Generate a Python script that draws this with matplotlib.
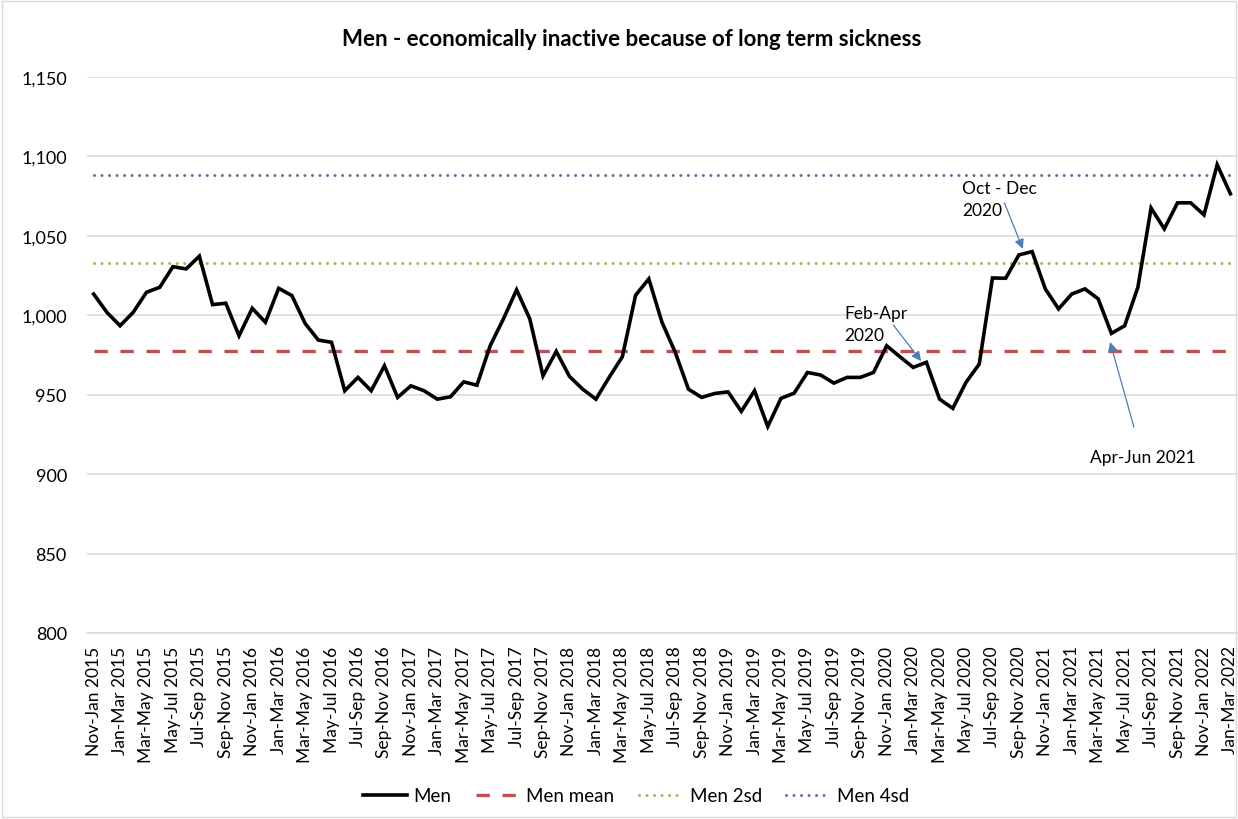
"""Men economically inactive because of long term sickness - control chart."""

import matplotlib
matplotlib.use("Agg")
import matplotlib.pyplot as plt
from matplotlib.patches import Rectangle

# rolling three-month periods, Nov-Jan 2015 .. Jan-Mar 2022
MONTHS = ["Jan", "Feb", "Mar", "Apr", "May", "Jun",
          "Jul", "Aug", "Sep", "Oct", "Nov", "Dec"]
periods = []
for k in range(87):
    end = k  # months after Jan 2015
    year = 2015 + end // 12
    m_end = end % 12
    m_start = (m_end - 2) % 12
    periods.append(f"{MONTHS[m_start]}-{MONTHS[m_end]} {year}")

men = [
    1013.4, 1001.9, 993.4, 1001.9, 1014.5, 1017.6, 1030.6, 1029.2, 1037.2, 1006.7,
    1007.6, 987.1, 1004.4, 995.6, 1017.0, 1012.4, 994.9, 984.4, 983.0, 952.5,
    960.9, 952.5, 968.2, 948.3, 955.6, 952.5, 947.2, 948.7, 958.1, 956.0,
    980.8, 997.7, 1016.0, 997.7, 961.9, 977.3, 961.5, 953.5, 947.2, 960.9,
    973.9, 1012.6, 1022.9, 995.6, 976.7, 953.5, 948.3, 950.8, 951.8, 939.5,
    952.5, 930.0, 947.7, 951.0, 964.0, 962.4, 957.3, 960.9, 960.9, 964.0,
    980.8, 973.9, 967.2, 970.4, 947.2, 941.4, 957.8, 969.3, 1023.5, 1023.3,
    1038.0, 1040.1, 1016.6, 1004.0, 1013.4, 1016.6, 1010.3, 988.6, 993.4, 1017.6,
    1067.5, 1054.4, 1070.8, 1070.8, 1063.2, 1094.8, 1076.5,
]
MEAN = 977.5
SD2 = 1033.0
SD4 = 1088.5

y_ticks = [800, 850, 900, 950, 1000, 1050, 1100, 1150]

# annotations: (label, text pos, arrow start, arrow tip) in (category, value)
notes = [
    ("Feb-Apr\n2020", (56.8, 994.5), (60.5, 993.9), (62.6, 971.2), "left"),
    ("Oct - Dec\n2020", (65.7, 1073.3), (68.9, 1070.8), (70.3, 1041.8), "left"),
    ("Apr-Jun 2021", (79.4, 910.7), (78.7, 929.6), (76.9, 983.2), "center"),
]

FONT = ["Lato", "DejaVu Sans"]
plt.rcParams["font.family"] = FONT

BLACK = "#000000"
RED = "#C0504D"
GREEN = "#9BBB59"
PURPLE = "#8064A2"
GRID = "#D9D9D9"
ARROW = "#4A7EBB"

fig = plt.figure(figsize=(12.38, 8.2), dpi=100)
ax = fig.add_axes([87 / 1238, 1 - 634 / 820, 1150 / 1238, (634 - 78) / 820])

x = list(range(len(men)))
ax.plot(x, [SD4] * len(x), color=PURPLE, lw=2.2, linestyle=(0, (0.01, 2.45)),
        dash_capstyle="round", label="Men 4sd", zorder=2)
ax.plot(x, [SD2] * len(x), color=GREEN, lw=2.2, linestyle=(0, (0.01, 2.45)),
        dash_capstyle="round", label="Men 2sd", zorder=2)
ax.plot(x, [MEAN] * len(x), color=RED, lw=2.4, linestyle=(0, (4, 3.8)),
        label="Men mean", zorder=2)
ax.plot(x, men, color=BLACK, lw=2.6, label="Men", zorder=3,
        solid_joinstyle="miter")

ax.set_xlim(-0.5, len(men) - 0.5)
ax.set_ylim(800, 1150)
ax.set_yticks(y_ticks)
ax.set_yticklabels([f"{v:,}" for v in y_ticks], fontsize=13)
ax.set_xticks(x[::2])
ax.set_xticklabels(periods[::2], rotation=90, fontsize=12.5)
ax.tick_params(axis="both", length=0)
ax.tick_params(axis="y", pad=14.5)
ax.tick_params(axis="x", pad=9)
ax.grid(axis="y", color=GRID, lw=1.1)
ax.set_axisbelow(True)
for side in ["top", "right", "left"]:
    ax.spines[side].set_visible(False)
ax.spines["bottom"].set_color(GRID)
ax.spines["bottom"].set_linewidth(1.1)

for text, tpos, start, tip, ha in notes:
    ax.text(tpos[0], tpos[1], text, fontsize=12.5, ha=ha, va="center",
            linespacing=1.45, zorder=4)
    ax.annotate("", xy=tip, xytext=start,
                arrowprops=dict(arrowstyle="-|>", color=ARROW, lw=0.9,
                                mutation_scale=14, shrinkA=0, shrinkB=0))

fig.text(0.5105, 1 - 40 / 820, "Men - economically inactive because of long term sickness",
         ha="center", va="center", fontsize=16, fontweight="bold")

handles, labels = ax.get_legend_handles_labels()
order = [3, 2, 1, 0]
fig.legend([handles[i] for i in order], [labels[i] for i in order],
           loc="center", bbox_to_anchor=(636 / 1238, 23 / 820), ncol=4,
           frameon=False, fontsize=13.5, handlelength=2.35, columnspacing=1.3,
           handletextpad=0.35)

fig.patches.append(Rectangle((0.002, 0.002), 0.996, 0.996, transform=fig.transFigure,
                             fill=False, edgecolor=GRID, lw=1.0))

fig.savefig("out.png", dpi=100)
